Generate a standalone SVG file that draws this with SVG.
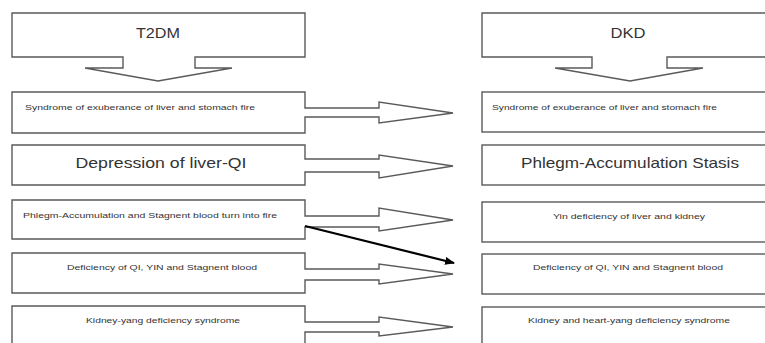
<svg xmlns="http://www.w3.org/2000/svg" width="765" height="343" viewBox="0 0 765 343">
<style>
.shape{fill:#fff;stroke:#5a5a5a;stroke-width:1.4;stroke-linejoin:miter}
.t{font-family:"Liberation Sans",Arial,sans-serif;fill:#333}
.s{font-size:8px}
.m{font-size:14px}
.l{font-size:15px}
</style>
<defs>
<marker id="ah" markerWidth="10" markerHeight="8" refX="9" refY="4" orient="auto" markerUnits="userSpaceOnUse">
<path d="M0,0 L10,4 L0,8 Z" fill="#000"/>
</marker>
</defs>
<rect width="765" height="343" fill="#fff"/>
<g id="t2dm">
<path class="shape" d="M12,13 H305 V57 H195 V68 H232 L158,81 L85,68 H123 V57 H12 Z"/>
<text class="t m" x="158" y="38" text-anchor="middle" textLength="44" lengthAdjust="spacingAndGlyphs">T2DM</text>
</g>
<g id="dkd">
<path class="shape" d="M482,13 H775 V57 H667 V68 H703 L630,81 L555,68 H592 V57 H482 Z"/>
<text class="t m" x="628" y="38" text-anchor="middle" textLength="35" lengthAdjust="spacingAndGlyphs">DKD</text>
</g>
<g id="left1">
<path class="shape" d="M12,92 H305 V108 H379 V102 L453,113 L379,123 V117 H305 V133 H12 Z"/>
<text class="t s" x="25" y="110" textLength="230" lengthAdjust="spacingAndGlyphs">Syndrome of exuberance of liver and stomach fire</text>
</g>
<g id="left2">
<path class="shape" d="M12,145 H305 V159 H379 V155 L453,166 L379,178 V172 H305 V185 H12 Z"/>
<text class="t l" x="161" y="168" text-anchor="middle" textLength="171" lengthAdjust="spacingAndGlyphs">Depression of liver-QI</text>
</g>
<g id="left3">
<path class="shape" d="M12,200 H305 V216 H379 V208 L453,220 L379,231 V227 H305 V239 H12 Z"/>
<text class="t s" x="23" y="218" textLength="254" lengthAdjust="spacingAndGlyphs">Phlegm-Accumulation and Stagnent blood turn into fire</text>
</g>
<g id="left4">
<path class="shape" d="M12,253 H305 V269 H379 V264 L453,274 L379,284 V280 H305 V293 H12 Z"/>
<text class="t s" x="162" y="270" text-anchor="middle" textLength="190" lengthAdjust="spacingAndGlyphs">Deficiency of QI, YIN and Stagnent blood</text>
</g>
<g id="left5">
<path class="shape" d="M12,350 V306 H305 V322 H379 V317 L453,327 L379,336 V332 H305 V350"/>
<text class="t s" x="163" y="323" text-anchor="middle" textLength="154" lengthAdjust="spacingAndGlyphs">Kidney-yang deficiency syndrome</text>
</g>
<g id="right1">
<rect class="shape" x="482" y="92" width="293" height="40"/>
<text class="t s" x="492" y="110" textLength="225" lengthAdjust="spacingAndGlyphs">Syndrome of exuberance of liver and stomach fire</text>
</g>
<g id="right2">
<rect class="shape" x="482" y="145" width="293" height="40"/>
<text class="t l" x="630" y="168" text-anchor="middle" textLength="218" lengthAdjust="spacingAndGlyphs">Phlegm-Accumulation Stasis</text>
</g>
<g id="right3">
<rect class="shape" x="482" y="202" width="293" height="40"/>
<text class="t s" x="629" y="219" text-anchor="middle" textLength="152" lengthAdjust="spacingAndGlyphs">Yin deficiency of liver and kidney</text>
</g>
<g id="right4">
<rect class="shape" x="482" y="254" width="293" height="40"/>
<text class="t s" x="628" y="270" text-anchor="middle" textLength="190" lengthAdjust="spacingAndGlyphs">Deficiency of QI, YIN and Stagnent blood</text>
</g>
<g id="right5">
<rect class="shape" x="482" y="307" width="293" height="50"/>
<text class="t s" x="629" y="323" text-anchor="middle" textLength="202" lengthAdjust="spacingAndGlyphs">Kidney and heart-yang deficiency syndrome</text>
</g>
<g id="connectors">
<line x1="305" y1="226" x2="454" y2="263" stroke="#000" stroke-width="2.2" marker-end="url(#ah)"/>
</g>
</svg>
